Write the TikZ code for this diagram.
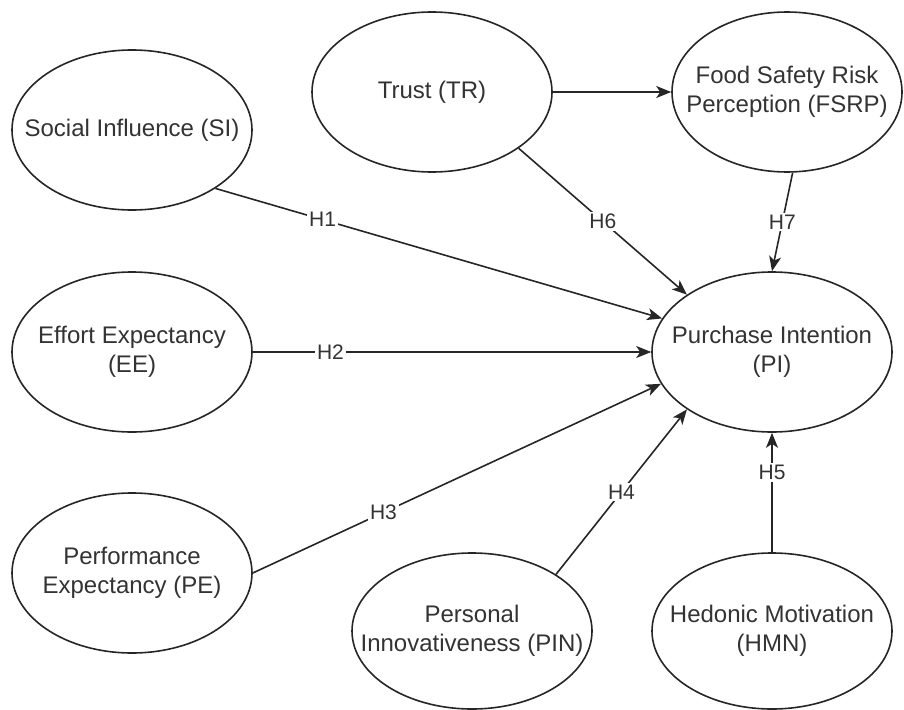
\documentclass[tikz,border=0pt]{standalone}
\usepackage{fontspec}
\setmainfont{Liberation Sans}
\usetikzlibrary{shapes.geometric,arrows.meta}
\begin{document}
\begin{tikzpicture}[x=1pt,y=-1pt,
  construct/.style={ellipse,draw=black!85,fill=white,line width=1.6pt,minimum width=240pt,minimum height=160pt,inner sep=0pt},
  ctext/.style={align=center,inner sep=0pt,font=\fontsize{24}{29}\selectfont,text=black!80},
  link/.style={draw=black!85,line width=1.6pt,-{Stealth[length=15pt,width=12pt,inset=4pt]}},
  hyp/.style={fill=white,inner sep=2pt,font=\fontsize{21}{25}\selectfont,text=black!80}]
\useasboundingbox (0,0) rectangle (904,709);

\node[construct] (SI) at (132,130) {};
\node[ctext] (SIt) at (SI) {Social Influence (SI)};
\node[construct] (TR) at (432,92) {};
\node[ctext] (TRt) at (TR) {Trust (TR)};
\node[construct,minimum width=230pt] (FSRP) at (787,92) {};
\node[ctext] (FSRPt) at (FSRP) {Food Safety Risk\\Perception (FSRP)};
\node[construct] (EE) at (132,352) {};
\node[ctext] (EEt) at (EE) {Effort Expectancy\\(EE)};
\node[construct] (PI) at (772,352) {};
\node[ctext] (PIt) at (PI) {Purchase Intention\\(PI)};
\node[construct] (PE) at (132,573) {};
\node[ctext] (PEt) at (PE) {Performance\\Expectancy (PE)};
\node[construct,minimum height=156pt] (PIN) at (472,631) {};
\node[ctext] (PINt) at (PIN) {Personal\\Innovativeness (PIN)};
\node[construct,minimum height=156pt] (HMN) at (772,631) {};
\node[ctext] (HMNt) at (HMN) {Hedonic Motivation\\(HMN)};

\draw[link] (TR.east) -- (FSRP.west);
\draw[link] (SI.-35) -- node[hyp,pos=0.24] {H1} (PI.163.5);
\draw[link] (TR.-33) -- node[hyp,pos=0.5] {H6} (PI.146);
\draw[link] (EE.east) -- node[hyp,pos=0.195] {H2} (PI.west);
\draw[link] (PE.east) -- node[hyp,pos=0.32] {H3} (PI.196.4);
\draw[link] (PIN.34.5) -- node[hyp,pos=0.5] {H4} (PI.214.4);
\draw[link] (HMN.north) -- node[hyp,pos=0.67] {H5} (PI.south);
\draw[link] (FSRP.-86) -- node[hyp,pos=0.5] {H7} (PI.north);
\end{tikzpicture}
\end{document}
